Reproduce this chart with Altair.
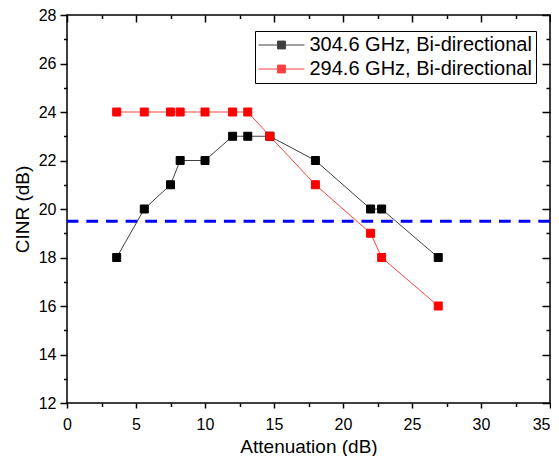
import altair as alt
import pandas as pd

# ---- data ----
attenuation = [3.6, 5.6, 7.5, 8.2, 10, 12, 13.1, 14.7, 18, 22, 22.8, 26.9]
cinr_304 = [18, 20, 21, 22, 22, 23, 23, 23, 22, 20, 20, 18]
cinr_294 = [24, 24, 24, 24, 24, 24, 24, 23, 21, 19, 18, 16]
series_names = ["304.6 GHz, Bi-directional", "294.6 GHz, Bi-directional"]
series_colors = ["#000000", "#ff0000"]
threshold = [19.5]
x_ticks = [0, 2.5, 5, 7.5, 10, 12.5, 15, 17.5, 20, 22.5, 25, 27.5, 30, 32.5, 35]
y_ticks = [12, 13, 14, 15, 16, 17, 18, 19, 20, 21, 22, 23, 24, 25, 26, 27, 28]

rows = []
for name, vals in zip(series_names, [cinr_304, cinr_294]):
    for i, (a, c) in enumerate(zip(attenuation, vals)):
        rows.append({"series": name, "atten": a, "cinr": c, "idx": i})
df = pd.DataFrame(rows)
df_thr = pd.DataFrame({"thr": threshold})

FONT = "Liberation Sans"

x_scale = alt.Scale(domain=[0, 35], nice=False, zero=False)
y_scale = alt.Scale(domain=[12, 28], nice=False, zero=False)
c_scale = alt.Scale(domain=series_names, range=series_colors)

legend_def = alt.Legend(
    title=None,
    orient="none",
    legendX=188,
    legendY=16,
    symbolType="M-2.875,0H-0.49M0.49,0H2.875M-0.49,-0.49H0.49V0.49H-0.49Z",
    symbolSize=256,
    symbolStrokeWidth=1,
    symbolOffset=12.5,
    labelFont=FONT,
    labelFontSize=20,
    labelColor="black",
    labelLimit=400,
    labelOffset=18,
    padding=4,
    rowPadding=4,
    strokeColor="black",
    fillColor="white",
)

bottom_axis = alt.Axis(
    orient="bottom", values=x_ticks, title="Attenuation (dB)",
    labelExpr="datum.value % 5 === 0 ? datum.label : ''",
    labelAlign={"expr": "datum.value === 35 ? 'right' : 'center'"},
    tickSize={"expr": "datum.value % 5 === 0 ? 5 : 3.5"},
    labelPadding=8, titlePadding=5, labelFlush=False, labelOverlap=False,
    grid=False, domain=False,
)
left_axis = alt.Axis(
    orient="left", values=y_ticks, title="CINR (dB)",
    labelExpr="datum.value % 2 === 0 ? datum.label : ''",
    tickSize={"expr": "datum.value % 2 === 0 ? 7 : 3.5"},
    labelPadding=4, titlePadding=6, labelFlush=False, labelOverlap=False,
    grid=False, domain=False,
)
top_axis = alt.Axis(
    orient="top", values=x_ticks, title=None, labels=False,
    tickSize={"expr": "datum.value % 5 === 0 ? -7 : -3.5"},
    grid=False, domain=False,
)
right_axis = alt.Axis(
    orient="right", values=y_ticks, title=None, labels=False,
    tickSize={"expr": "datum.value % 2 === 0 ? -8 : -4"},
    grid=False, domain=False,
)

lines = alt.Chart(df).mark_line(strokeWidth=1, opacity=0.75).encode(
    x=alt.X("atten:Q", scale=x_scale, axis=bottom_axis),
    y=alt.Y("cinr:Q", scale=y_scale, axis=left_axis),
    stroke=alt.Stroke("series:N", scale=c_scale, legend=legend_def, sort=series_names),
    order=alt.Order("idx:Q"),
)

points = alt.Chart(df).mark_point(shape="square", filled=True, size=64, strokeWidth=1, opacity=1).encode(
    x=alt.X("atten:Q", scale=x_scale, axis=top_axis),
    y=alt.Y("cinr:Q", scale=y_scale, axis=right_axis),
    fill=alt.Fill("series:N", scale=c_scale, legend=legend_def, sort=series_names),
    stroke=alt.Stroke("series:N", scale=c_scale, legend=legend_def, sort=series_names),
)

rule = alt.Chart(df_thr).mark_rule(color="#0000ff", strokeWidth=3, strokeDash=[11.7, 7.95]).encode(
    y=alt.Y("thr:Q", scale=y_scale, axis=None),
)

chart = alt.layer(lines, points, rule).resolve_axis(
    x="independent", y="independent"
).properties(
    width=483, height=388,
    background="white",
    autosize=alt.AutoSizeParams(type="none"),
    padding={"left": 59, "top": 7, "right": 1, "bottom": 53},
).configure_view(
    stroke="black", strokeWidth=1.5
).configure_axis(
    labelFont=FONT, labelFontSize=16, labelColor="black",
    titleFont=FONT, titleFontSize=19, titleFontWeight="normal", titleColor="black",
    tickColor="black", tickWidth=1.5,
)

chart.save("out.html", embed_options={"renderer": "svg", "actions": False})
